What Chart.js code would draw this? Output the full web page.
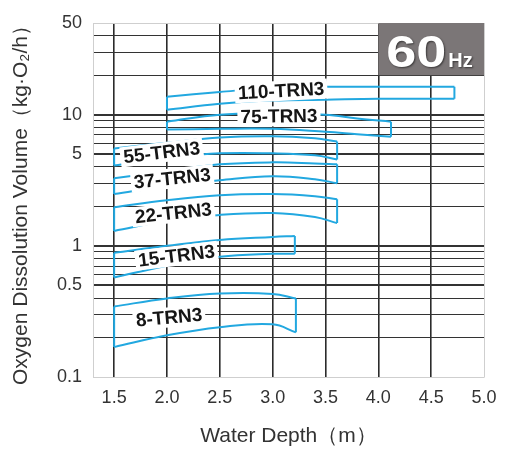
<!DOCTYPE html>
<html>
<head>
<meta charset="utf-8">
<script src="https://cdn.jsdelivr.net/npm/chart.js@4.4.0/dist/chart.umd.min.js"></script>
<style>
    body { margin: 0; background: #fff; }
    #wrap { width: 516px; height: 452px; }
</style>
</head>
<body>
<div id="wrap"><canvas id="myChart"></canvas></div>
<script>
    "use strict";

    const models = ['110-TRN3', '75-TRN3', '55-TRN3', '37-TRN3', '22-TRN3', '15-TRN3', '8-TRN3'];

    // water depth (m) / dissolution volume (kg O2/h), upper and lower edge of each band
    const depth110 = [2.0, 2.5, 3.0, 3.5, 4.0, 4.72];
    const upper110 = [13.7, 14.9, 16.0, 16.3, 16.3, 16.3];
    const lower110 = [10.9, 12.1, 12.8, 13.0, 13.2, 13.2];

    const depth75 = [2.0, 2.5, 3.0, 3.5, 3.8, 4.12];
    const upper75 = [8.85, 10.0, 10.2, 10.0, 9.35, 8.85];
    const lower75 = [7.7, 7.8, 7.8, 7.4, 7.1, 6.8];

    const depth55 = [1.5, 2.0, 2.5, 3.0, 3.4, 3.61];
    const upper55 = [5.53, 6.1, 6.7, 6.85, 6.6, 6.24];
    const lower55 = [4.1, 4.65, 5.07, 5.07, 4.9, 4.56];

    const depth37 = [1.5, 2.0, 2.5, 3.0, 3.4, 3.61];
    const upper37 = [3.27, 3.7, 4.18, 4.33, 4.25, 4.18];
    const lower37 = [2.48, 2.85, 3.16, 3.39, 3.22, 3.0];

    const depth22 = [1.5, 2.0, 2.5, 3.0, 3.4, 3.61];
    const upper22 = [1.97, 2.23, 2.43, 2.48, 2.39, 2.27];
    const lower22 = [1.30, 1.55, 1.72, 1.78, 1.66, 1.49];

    const depth15 = [1.5, 2.0, 2.5, 3.0, 3.21];
    const upper15 = [0.885, 1.0, 1.11, 1.17, 1.19];
    const lower15 = [0.573, 0.705, 0.825, 0.87, 0.87];

    const depth8 = [1.5, 2.0, 2.5, 3.0, 3.22];
    const upper8 = [0.345, 0.397, 0.433, 0.43, 0.397];
    const lower8 = [0.169, 0.208, 0.24, 0.252, 0.219];

    const xTicks = [1.5, 2.0, 2.5, 3.0, 3.5, 4.0, 4.5, 5.0];
    const yGrid = [0.1, 0.2, 0.3, 0.4, 0.5, 0.6, 0.7, 0.8, 0.9,
                   1, 2, 3, 4, 5, 6, 7, 8, 9, 10, 20, 30, 40, 50];
    const yTickLabels = [0.1, 0.5, 1, 5, 10, 50];
    const yMajor = [0.5, 1, 5, 10];

    // where each model name sits: depth, volume, angle (deg)
    const labelSpots = [
        [3.08, 15.2, -3],
        [3.06, 9.74, -1],
        [1.95, 5.15, -7],
        [2.05, 3.27, -6],
        [2.06, 1.78, -6],
        [2.09, 0.84, -7],
        [2.02, 0.285, -5]
    ];

    const series = [
        [depth110, upper110, lower110],
        [depth75, upper75, lower75],
        [depth55, upper55, lower55],
        [depth37, upper37, lower37],
        [depth22, upper22, lower22],
        [depth15, upper15, lower15],
        [depth8, upper8, lower8]
    ];

    const cyan = '#22a8e0';
    const font = '"Liberation Sans", Arial, sans-serif';

    function lineSet(points, smooth) {
        return {
            data: points,
            borderColor: cyan,
            borderWidth: 2,
            pointRadius: 0,
            fill: false,
            spanGaps: false,
            tension: smooth ? 0.4 : 0
        };
    }

    const datasets = [];
    series.forEach(function (s) {
        const depth = s[0], upper = s[1], lower = s[2];
        const n = depth.length - 1;
        datasets.push(lineSet(depth.map((d, i) => ({x: d, y: upper[i]})), true));
        datasets.push(lineSet(depth.map((d, i) => ({x: d, y: lower[i]})), true));
        datasets.push(lineSet([
            {x: depth[0], y: upper[0]},
            {x: depth[0], y: lower[0]},
            {x: depth[0], y: null},
            {x: depth[n], y: upper[n]},
            {x: depth[n], y: lower[n]}
        ], false));
    });

    const near = (a, b) => Math.abs(a - b) < 1e-6;

    const overlay = {
        id: 'overlay',
        afterDatasetsDraw(chart) {
            const ctx = chart.ctx;
            const x = chart.scales.x, y = chart.scales.y;

            // 60Hz box
            const bx0 = x.getPixelForValue(4.0), bx1 = x.getPixelForValue(5.0);
            const by0 = y.getPixelForValue(50), by1 = y.getPixelForValue(20);
            ctx.save();
            ctx.fillStyle = '#7b7677';
            ctx.fillRect(bx0, by0, bx1 - bx0, by1 - by0);
            ctx.fillStyle = '#fff';
            ctx.shadowColor = 'rgba(0,0,0,0.55)';
            ctx.shadowBlur = 2;
            ctx.shadowOffsetX = 1;
            ctx.shadowOffsetY = 1;
            ctx.textBaseline = 'alphabetic';
            ctx.save();
            ctx.translate(bx0 + 8, by1 - 8);
            ctx.scale(1.2, 1);
            ctx.font = 'bold 45px ' + font;
            ctx.fillText('60', 0, 0);
            ctx.restore();
            ctx.font = 'bold 20px ' + font;
            ctx.fillText('Hz', bx0 + 70, by1 - 8);
            ctx.restore();

            // model names
            ctx.save();
            ctx.font = 'bold 19px ' + font;
            ctx.textAlign = 'center';
            ctx.textBaseline = 'middle';
            models.forEach(function (name, i) {
                const spot = labelSpots[i];
                const px = x.getPixelForValue(spot[0]);
                const py = y.getPixelForValue(spot[1]);
                const w = ctx.measureText(name).width;
                ctx.save();
                ctx.translate(px, py);
                ctx.rotate(spot[2] * Math.PI / 180);
                ctx.fillStyle = '#fff';
                ctx.fillRect(-w / 2 - 3, -10, w + 6, 20);
                ctx.fillStyle = '#151515';
                ctx.fillText(name, 0, 1);
                ctx.restore();
            });
            ctx.restore();
        }
    };

    const ctx = document.getElementById('myChart').getContext('2d');

    const myChart = new Chart(ctx, {
        type: 'line',
        data: { datasets: datasets },
        options: {
            responsive: true,
            maintainAspectRatio: false,
            animation: false,
            layout: { padding: { top: 23, right: 32, bottom: 0, left: 0 } },
            plugins: {
                legend: { display: false },
                tooltip: { enabled: false }
            },
            scales: {
                x: {
                    type: 'linear',
                    min: 1.3,
                    max: 5.0,
                    afterFit(scale) { scale.height = 75; },
                    afterBuildTicks(scale) {
                        scale.ticks = xTicks.map(v => ({value: v}));
                    },
                    border: { color: '#cfcfcf', width: 1 },
                    grid: {
                        drawTicks: false,
                        color: c => near(c.tick.value, 5.0) ? '#cfcfcf' : '#2b2b2b',
                        lineWidth: c => near(c.tick.value, 5.0) ? 1 : 1.6
                    },
                    ticks: {
                        padding: 10,
                        color: '#333',
                        font: { size: 18, family: font },
                        callback: v => v.toFixed(1)
                    },
                    title: {
                        display: true,
                        text: 'Water Depth（m）',
                        color: '#333',
                        font: { size: 21, family: font },
                        padding: { top: 0, bottom: 3 }
                    }
                },
                y: {
                    type: 'logarithmic',
                    min: 0.1,
                    max: 50,
                    afterFit(scale) { scale.width = 93; },
                    afterBuildTicks(scale) {
                        scale.ticks = yGrid.map(v => ({value: v}));
                    },
                    border: { color: '#cfcfcf', width: 1 },
                    grid: {
                        drawTicks: false,
                        color: function (c) {
                            const v = c.tick.value;
                            if (near(v, 50) || near(v, 0.1)) return '#cfcfcf';
                            return '#333';
                        },
                        lineWidth: function (c) {
                            const v = c.tick.value;
                            return yMajor.some(m => near(m, v)) ? 2 : 1;
                        }
                    },
                    ticks: {
                        padding: 11,
                        color: '#333',
                        autoSkip: false,
                        font: { size: 18, family: font },
                        callback: function (v) {
                            return yTickLabels.some(t => near(t, v)) ? String(v) : '';
                        }
                    },
                    title: {
                        display: true,
                        text: 'Oxygen Dissolution Volume（kg·O₂/h）',
                        color: '#333',
                        font: { size: 21, family: font },
                        padding: { top: 9, bottom: 0 }
                    }
                }
            }
        },
        plugins: [overlay]
    });
</script>
</body>
</html>
